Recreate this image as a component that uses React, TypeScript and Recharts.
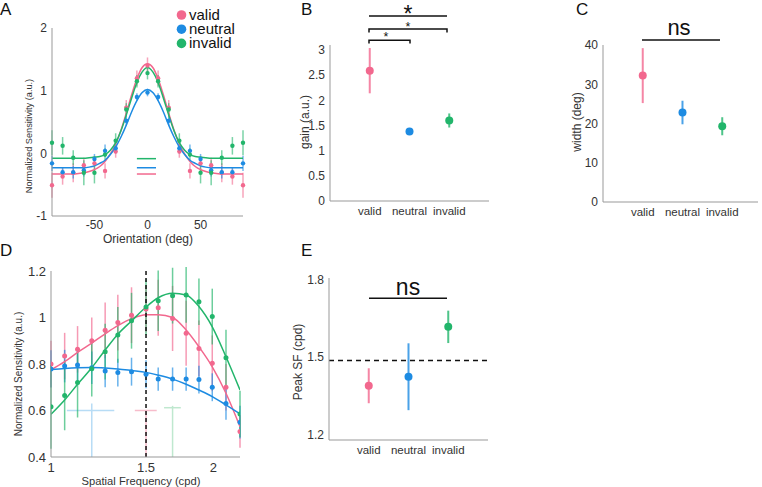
import React from "react";
import {
  ComposedChart,
  Scatter,
  Line,
  XAxis,
  YAxis,
  ErrorBar,
  ReferenceLine,
} from "recharts";

const FONT = '"Liberation Sans", Arial, sans-serif';
const PINK = "#f2688e";
const BLUE = "#1d8be2";
const GREEN = "#22b56b";
const AXIS = "#999";
const TEXT = "#333";

const conditions = ["valid", "neutral", "invalid"];
const colors = [PINK, BLUE, GREEN];

// A: orientation tuning (normalized sensitivity)
const orientations = [-90, -80, -70, -60, -50, -40, -30, -20, -10, 0, 10, 20, 30, 40, 50, 60, 70, 80, 90];
const tuningValid = [-0.51, -0.37, -0.31, -0.19, -0.16, -0.28, 0.03, 0.73, 1.2, 1.4, 1.2, 0.73, 0.03, -0.28, -0.16, -0.19, -0.31, -0.37, -0.51];
const tuningValidErr = [0.2, 0.13, 0.15, 0.12, 0.12, 0.12, 0.1, 0.12, 0.12, 0.13, 0.12, 0.12, 0.1, 0.12, 0.12, 0.12, 0.15, 0.13, 0.2];
const tuningNeutral = [-0.16, -0.3, -0.3, -0.27, -0.09, 0.04, 0.08, 0.52, 0.9, 0.97, 0.9, 0.52, 0.08, 0.04, -0.09, -0.27, -0.3, -0.3, -0.16];
const tuningNeutralErr = [0.12, 0.08, 0.1, 0.1, 0.08, 0.1, 0.08, 0.08, 0.06, 0.06, 0.06, 0.08, 0.08, 0.1, 0.08, 0.1, 0.1, 0.08, 0.12];
const tuningInvalid = [0.17, 0.12, -0.07, -0.31, -0.31, -0.02, 0.2, 0.7, 1.15, 1.28, 1.15, 0.7, 0.2, -0.02, -0.31, -0.31, -0.07, 0.12, 0.17];
const tuningInvalidErr = [0.2, 0.14, 0.12, 0.2, 0.17, 0.1, 0.12, 0.1, 0.1, 0.1, 0.1, 0.1, 0.12, 0.1, 0.17, 0.2, 0.12, 0.14, 0.2];

// fitted tuning curves, read every 5 deg
const fitOrientations = [-90, -85, -80, -75, -70, -65, -60, -55, -50, -45, -40, -35, -30, -25, -20, -15, -10, -5, 0, 5, 10, 15, 20, 25, 30, 35, 40, 45, 50, 55, 60, 65, 70, 75, 80, 85, 90];
const fitValid = [-0.33, -0.33, -0.33, -0.33, -0.33, -0.32, -0.31, -0.29, -0.26, -0.21, -0.13, -0.01, 0.15, 0.37, 0.64, 0.93, 1.19, 1.37, 1.43, 1.37, 1.19, 0.93, 0.64, 0.37, 0.15, -0.01, -0.13, -0.21, -0.26, -0.29, -0.31, -0.32, -0.33, -0.33, -0.33, -0.33, -0.33];
const fitNeutral = [-0.23, -0.23, -0.23, -0.23, -0.23, -0.23, -0.23, -0.22, -0.2, -0.16, -0.11, -0.02, 0.1, 0.26, 0.45, 0.66, 0.84, 0.97, 1.02, 0.97, 0.84, 0.66, 0.45, 0.26, 0.1, -0.02, -0.11, -0.16, -0.2, -0.22, -0.23, -0.23, -0.23, -0.23, -0.23, -0.23, -0.23];
const fitInvalid = [-0.08, -0.08, -0.08, -0.08, -0.08, -0.08, -0.08, -0.07, -0.06, -0.05, -0.02, 0.05, 0.17, 0.36, 0.61, 0.88, 1.13, 1.3, 1.37, 1.3, 1.13, 0.88, 0.61, 0.36, 0.17, 0.05, -0.02, -0.05, -0.06, -0.07, -0.08, -0.08, -0.08, -0.08, -0.08, -0.08, -0.08];
const baselineSpan = [-10, 8];
const tuningBaselines = [-0.33, -0.23, -0.085];

// B, C, E: fitted parameters per cue condition
const gain = [2.59, 1.38, 1.6];
const gainErr = [0.45, 0.03, 0.14];
const tuningWidth = [32.2, 22.8, 19.3];
const tuningWidthErr = [7, 3, 2.3];
const peakSF = [1.389, 1.424, 1.618];
const peakSFErr = [0.068, 0.13, 0.063];
const peakSFRef = 1.487;

// D: spatial frequency tuning
const spatialFreqs = [1.0, 1.06, 1.12, 1.19, 1.26, 1.33, 1.41, 1.5, 1.58, 1.68, 1.78, 1.88, 1.99, 2.11, 2.24];
const sfValid = [0.8, 0.834, 0.863, 0.9, 0.945, 0.978, 1.01, 1.037, 1.042, 0.996, 0.932, 0.867, 0.803, 0.7, 0.51];
const sfValidErr = [0.1, 0.1, 0.1, 0.1, 0.12, 0.12, 0.12, 0.1, 0.12, 0.14, 0.14, 0.12, 0.12, 0.1, 0.07];
const sfNeutral = [0.779, 0.791, 0.796, 0.784, 0.77, 0.763, 0.767, 0.756, 0.735, 0.735, 0.735, 0.733, 0.7, 0.63, 0.55];
const sfNeutralErr = [0.08, 0.07, 0.07, 0.07, 0.07, 0.06, 0.06, 0.06, 0.05, 0.05, 0.05, 0.06, 0.06, 0.07, 0.07];
const sfInvalid = [0.616, 0.665, 0.72, 0.78, 0.853, 0.925, 0.986, 1.045, 1.072, 1.094, 1.097, 1.068, 1.004, 0.827, 0.585];
const sfInvalidErr = [0.18, 0.15, 0.15, 0.12, 0.12, 0.12, 0.12, 0.12, 0.13, 0.12, 0.12, 0.1, 0.12, 0.12, 0.1];
const sfFitValid = [0.775, 0.81, 0.85, 0.89, 0.93, 0.965, 0.995, 1.012, 1.012, 1.0, 0.946, 0.874, 0.788, 0.674, 0.53];
const sfFitNeutral = [0.776, 0.781, 0.784, 0.785, 0.783, 0.779, 0.772, 0.764, 0.752, 0.735, 0.713, 0.688, 0.66, 0.624, 0.585];
const sfFitInvalid = [0.584, 0.645, 0.713, 0.784, 0.86, 0.928, 0.985, 1.045, 1.085, 1.104, 1.097, 1.047, 0.96, 0.831, 0.688];
// faint peak markers: peak SF, CI low/high, height of CI bar
const sfPeak = [1.5, 1.19, 1.68];
const sfPeakLow = [1.43, 1.07, 1.62];
const sfPeakHigh = [1.57, 1.31, 1.74];
const sfPeakBarY = [0.6, 0.6, 0.612];
const sfPeakTop = [0.6, 0.63, 0.62];
const faint = ["#f7bccb", "#b7dcf5", "#bfe8cf"];

type Pt = { x: number; y: number; e: number };
const toPoints = (xs: number[], ys: number[], es?: number[]): Pt[] =>
  xs.map((x, i) => ({ x, y: ys[i], e: es ? es[i] : 0 }));

const dot = (color: string, r: number) => (p: any) =>
  <circle cx={p.cx} cy={p.cy} r={r} fill={color} />;

const axisProps = {
  stroke: AXIS,
  tickLine: false,
  tickSize: 3,
  tickMargin: 2,
};

function TuningPanel() {
  const pts = [
    toPoints(orientations, tuningValid, tuningValidErr),
    toPoints(orientations, tuningNeutral, tuningNeutralErr),
    toPoints(orientations, tuningInvalid, tuningInvalidErr),
  ];
  const fits = [
    toPoints(fitOrientations, fitValid),
    toPoints(fitOrientations, fitNeutral),
    toPoints(fitOrientations, fitInvalid),
  ];
  return (
    <ComposedChart width={250} height={250} margin={{ top: 28, right: 7, bottom: 14, left: 12 }}>
      <XAxis type="number" dataKey="x" domain={[-90, 90]} ticks={[-50, 0, 50]} height={20}
        tick={{ fontSize: 12, fill: TEXT }} {...axisProps} tickMargin={1} />
      <YAxis type="number" dataKey="y" domain={[-1, 2]} ticks={[-1, 0, 1, 2]} width={40}
        tick={{ fontSize: 12, fill: TEXT }} {...axisProps} />
      {pts.map((d, i) => (
        <Scatter key={"s" + i} data={d} shape={dot(colors[i], 2.2)} isAnimationActive={false}>
          <ErrorBar dataKey="e" direction="y" width={0} stroke={colors[i] + "99"} strokeWidth={1.5} />
        </Scatter>
      ))}
      {fits.map((d, i) => (
        <Line key={"f" + i} data={d} dataKey="y" type="monotone" dot={false} stroke={colors[i]}
          strokeWidth={1.5} isAnimationActive={false} />
      ))}
      {tuningBaselines.map((b, i) => (
        <ReferenceLine key={"b" + i} segment={[{ x: baselineSpan[0], y: b }, { x: baselineSpan[1], y: b }]}
          stroke={colors[i]} strokeWidth={1.5} />
      ))}
    </ComposedChart>
  );
}

function ConditionPanel(props: {
  values: number[];
  errors: number[];
  width: number;
  height: number;
  margin: { top: number; right: number; bottom: number; left: number };
  xMax: number;
  yDomain: [number, number];
  yTicks: number[];
  tickSize: number;
  children?: React.ReactNode;
}) {
  const { values, errors } = props;
  return (
    <ComposedChart width={props.width} height={props.height} margin={props.margin}>
      <XAxis type="number" dataKey="x" domain={[0, props.xMax]} ticks={[1, 2, 3]} height={20}
        tickFormatter={(v: number) => conditions[v - 1] ?? ""} tick={{ fontSize: 11.5, fill: TEXT }}
        {...axisProps} tickMargin={3} allowDataOverflow />
      <YAxis type="number" dataKey="y" domain={props.yDomain} ticks={props.yTicks} width={40}
        tick={{ fontSize: props.tickSize, fill: TEXT }} {...axisProps} allowDataOverflow />
      {props.children}
      {values.map((v, i) => (
        <Scatter key={conditions[i]} data={[{ x: i + 1, y: v, e: errors[i] }]} shape={dot(colors[i], 4)}
          isAnimationActive={false}>
          <ErrorBar dataKey="e" direction="y" width={0} stroke={colors[i] + "cc"} strokeWidth={2} />
        </Scatter>
      ))}
    </ComposedChart>
  );
}

function SpatialPanel() {
  const pts = [
    toPoints(spatialFreqs, sfValid, sfValidErr),
    toPoints(spatialFreqs, sfNeutral, sfNeutralErr),
    toPoints(spatialFreqs, sfInvalid, sfInvalidErr),
  ];
  const fits = [
    toPoints(spatialFreqs, sfFitValid),
    toPoints(spatialFreqs, sfFitNeutral),
    toPoints(spatialFreqs, sfFitInvalid),
  ];
  return (
    <ComposedChart width={250} height={242} margin={{ top: 26, right: 10, bottom: 10, left: 11 }}>
      <XAxis type="number" dataKey="x" scale="log" domain={[1, 2.24]} ticks={[1, 1.5, 2]} height={20}
        tick={{ fontSize: 13, fill: TEXT }} {...axisProps} tickMargin={3} allowDataOverflow />
      <YAxis type="number" dataKey="y" domain={[0.4, 1.2]} ticks={[0.4, 0.6, 0.8, 1, 1.2]} width={40}
        tick={{ fontSize: 13, fill: TEXT }} {...axisProps} allowDataOverflow />
      {sfPeak.map((p, i) => (
        <ReferenceLine key={"pv" + i} segment={[{ x: p, y: 0.4 }, { x: p, y: sfPeakTop[i] }]}
          stroke={faint[i]} strokeWidth={1.5} />
      ))}
      {sfPeak.map((_, i) => (
        <ReferenceLine key={"ph" + i}
          segment={[{ x: sfPeakLow[i], y: sfPeakBarY[i] }, { x: sfPeakHigh[i], y: sfPeakBarY[i] }]}
          stroke={faint[i]} strokeWidth={1.5} />
      ))}
      {pts.map((d, i) => (
        <Scatter key={"s" + i} data={d} shape={dot(colors[i], 2.5)} isAnimationActive={false}>
          <ErrorBar dataKey="e" direction="y" width={0} stroke={colors[i] + "aa"} strokeWidth={1.5} />
        </Scatter>
      ))}
      {fits.map((d, i) => (
        <Line key={"f" + i} data={d} dataKey="y" type="monotone" dot={false} stroke={colors[i]}
          strokeWidth={1.5} isAnimationActive={false} />
      ))}
      <ReferenceLine x={1.5} stroke="#111" strokeWidth={1.5} strokeDasharray="4 3" />
    </ComposedChart>
  );
}

export default function App() {
  const place = (left: number, top: number): React.CSSProperties => ({ position: "absolute", left, top });
  return (
    <div style={{ position: "absolute", left: 0, top: 0, width: 762, height: 487, background: "#fff", fontFamily: FONT }}>
      <div style={place(0, 0)}>
        <TuningPanel />
      </div>
      <div style={place(270, 0)}>
        <ConditionPanel values={gain} errors={gainErr} width={230} height={240}
          margin={{ top: 45, right: 11, bottom: 19, left: 20 }} xMax={4} yDomain={[0, 3.1]}
          yTicks={[0, 0.5, 1, 1.5, 2, 2.5, 3]} tickSize={12} />
      </div>
      <div style={place(540, 0)}>
        <ConditionPanel values={tuningWidth} errors={tuningWidthErr} width={222} height={240}
          margin={{ top: 45, right: 4, bottom: 18, left: 23 }} xMax={3.9} yDomain={[0, 40]}
          yTicks={[0, 10, 20, 30, 40]} tickSize={12} />
      </div>
      <div style={place(0, 245)}>
        <SpatialPanel />
      </div>
      <div style={place(270, 245)}>
        <ConditionPanel values={peakSF} errors={peakSFErr} width={230} height={242}
          margin={{ top: 33, right: 12, bottom: 27, left: 19 }} xMax={4} yDomain={[1.178, 1.808]}
          yTicks={[1.2, 1.5, 1.8]} tickSize={12}>
          <ReferenceLine y={peakSFRef} stroke="#111" strokeWidth={1.5} strokeDasharray="5 4" />
        </ConditionPanel>
      </div>

      <svg width={762} height={487} style={{ position: "absolute", left: 0, top: 0, pointerEvents: "none" }}
        fontFamily={FONT} fill="#111">
        {/* panel letters */}
        <text x={0} y={15} fontSize={17}>A</text>
        <text x={301} y={15} fontSize={17}>B</text>
        <text x={576} y={15} fontSize={17}>C</text>
        <text x={0} y={256} fontSize={17}>D</text>
        <text x={301} y={256} fontSize={17}>E</text>

        {/* legend */}
        {conditions.map((c, i) => (
          <g key={c}>
            <circle cx={181.5} cy={15 + i * 14.2} r={4.8} fill={colors[i]} />
            <text x={189} y={20 + i * 14.2} fontSize={15} fill="#111">{c}</text>
          </g>
        ))}

        {/* axis titles */}
        <text x={148} y={243} fontSize={12} textAnchor="middle" fill={TEXT}>Orientation (deg)</text>
        <text transform="translate(29,136) rotate(-90)" fontSize={9.2} textAnchor="middle"
          dominantBaseline="central" fill={TEXT}>Normalized Sensitivity (a.u.)</text>
        <text transform="translate(305,122) rotate(-90)" fontSize={12} textAnchor="middle"
          dominantBaseline="central" fill={TEXT}>gain (a.u.)</text>
        <text transform="translate(577,122) rotate(-90)" fontSize={12} textAnchor="middle"
          dominantBaseline="central" fill={TEXT}>width (deg)</text>
        <text x={141} y={485} fontSize={11.2} textAnchor="middle" fill={TEXT}>Spatial Frequency (cpd)</text>
        <text transform="translate(18,374) rotate(-90)" fontSize={10} textAnchor="middle"
          dominantBaseline="central" fill={TEXT}>Normalized Sensitivity (a.u.)</text>
        <text transform="translate(298,362) rotate(-90)" fontSize={12} textAnchor="middle"
          dominantBaseline="central" fill={TEXT}>Peak SF (cpd)</text>

        {/* significance markers */}
        <g stroke="#111" strokeWidth={1.5} fill="none">
          <path d="M369 16 H447" />
          <path d="M369 32.5 V29 H447 V32.5" />
          <path d="M369 43.5 V40.3 H410 V43.5" />
          <path d="M642 40 H720" />
          <path d="M369 298.3 H447" />
        </g>
        <text x={408} y={22} fontSize={23} textAnchor="middle">*</text>
        <text x={408} y={31} fontSize={12.5} textAnchor="middle">*</text>
        <text x={386} y={41} fontSize={12.5} textAnchor="middle">*</text>
        <text x={679} y={35} fontSize={22} textAnchor="middle">ns</text>
        <text x={408} y={295} fontSize={23} textAnchor="middle">ns</text>
      </svg>
    </div>
  );
}
